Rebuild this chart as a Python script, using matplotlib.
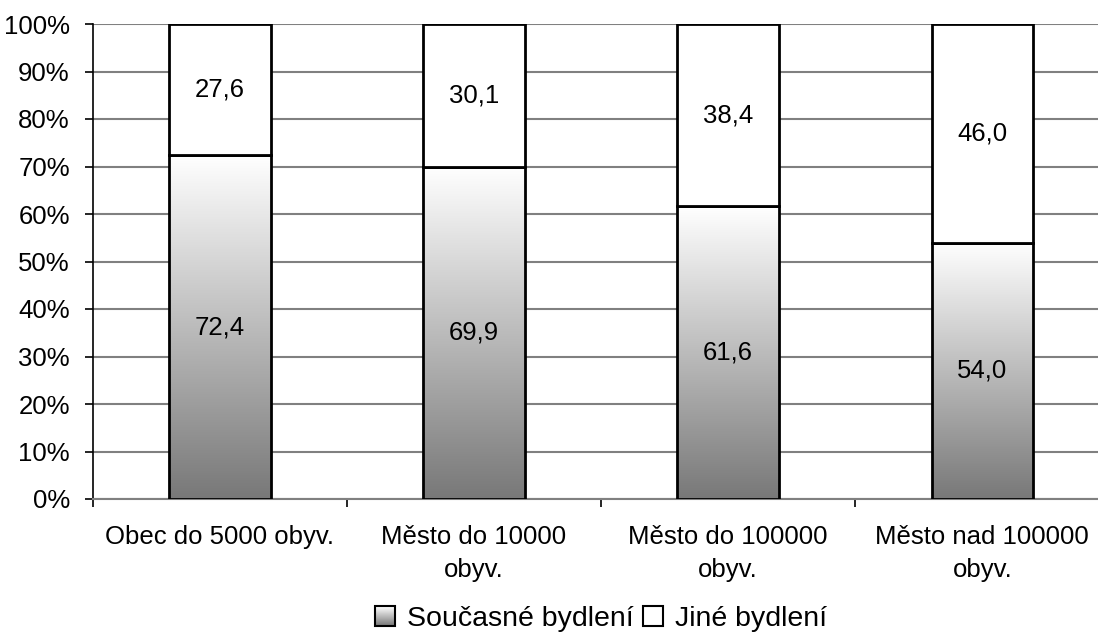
import numpy as np
import matplotlib.pyplot as plt
from matplotlib.patches import Rectangle
from matplotlib.legend_handler import HandlerBase

plt.rcParams['font.family'] = ['Liberation Sans', 'DejaVu Sans']

# Data
kategorie = ['Obec do 5000 obyv.', 'Město do 10000\nobyv.',
             'Město do 100000\nobyv.', 'Město nad 100000\nobyv.']
soucasne = [72.4, 69.9, 61.6, 54.0]
jine = [27.6, 30.1, 38.4, 46.0]

FS = 18.5

fig = plt.figure(figsize=(10.98, 6.32), dpi=100)
ax = fig.add_axes([92.7 / 1098, 1 - 499 / 632, (1098 - 92.7) / 1098, 475 / 632])

x = np.arange(len(kategorie))
sirka = 0.4

# gradient (svetla nahore, tmava dole)
grad = np.linspace(0, 1, 256).reshape(-1, 1)
cmap = plt.matplotlib.colors.LinearSegmentedColormap.from_list(
    'sede', ['#787878', '#ffffff'])

for i in range(len(x)):
    s = soucasne[i]
    j = jine[i]
    im = ax.imshow(grad, cmap=cmap, aspect='auto', origin='lower',
                   extent=[x[i] - sirka / 2, x[i] + sirka / 2, 0, s], zorder=3)
    r1 = Rectangle((x[i] - sirka / 2, 0), sirka, s, facecolor='none',
                   edgecolor='black', lw=2, zorder=4)
    ax.add_patch(r1)
    im.set_clip_path(r1)
    r2 = Rectangle((x[i] - sirka / 2, s), sirka, j, facecolor='white',
                   edgecolor='black', lw=2, zorder=4)
    ax.add_patch(r2)
    ax.text(x[i], s / 2, f'{s:.1f}'.replace('.', ','), ha='center', va='center',
            fontsize=FS, zorder=5)
    ax.text(x[i], s + j / 2, f'{j:.1f}'.replace('.', ','), ha='center', va='center',
            fontsize=FS, zorder=5)

ax.set_yticks(np.arange(0, 101, 10))
ax.set_yticklabels([f'{v}%' for v in range(0, 101, 10)], fontsize=FS)
ax.yaxis.grid(True, color='#808080', lw=1.5, zorder=0)
ax.set_axisbelow(True)

ax.set_xticks(x)
ax.set_xticklabels(kategorie, fontsize=FS, linespacing=1.46)
ax.tick_params(axis='x', length=0, pad=19)
ax.set_xticks(np.arange(-0.5, 4, 1), minor=True)
ax.tick_params(axis='x', which='minor', length=6, width=1.2, direction='out')
ax.tick_params(axis='y', length=5.5, width=1.2, direction='out', pad=11)

# limity az po nastaveni ticku (set_xticks je jinak roztahne)
ax.set_xlim(-0.5, 3.455)
ax.set_ylim(0, 100)

for sp in ['top', 'right']:
    ax.spines[sp].set_visible(False)
ax.spines['left'].set_linewidth(1.2)
ax.spines['bottom'].set_color('#808080')
ax.spines['bottom'].set_linewidth(1.5)


class GradHandler(HandlerBase):
    def create_artists(self, legend, orig, xd, yd, w, h, fontsize, trans):
        s = h * 1.0
        x0 = xd + (w - s) / 2
        y0 = yd + (h - s) / 2
        arts = []
        n = 20
        for k in range(n):
            c = cmap(1 - k / (n - 1))
            arts.append(Rectangle((x0, y0 + s * (n - 1 - k) / n), s, s / n,
                                  facecolor=c, edgecolor='none', transform=trans))
        arts.append(Rectangle((x0, y0), s, s, facecolor='none', edgecolor='black',
                              lw=1.5, transform=trans))
        return arts


class BoxHandler(HandlerBase):
    def create_artists(self, legend, orig, xd, yd, w, h, fontsize, trans):
        s = h * 1.0
        x0 = xd + (w - s) / 2
        y0 = yd + (h - s) / 2
        return [Rectangle((x0, y0), s, s, facecolor='white', edgecolor='black',
                          lw=1.5, transform=trans)]


h1 = Rectangle((0, 0), 1, 1)
h2 = Rectangle((0, 0), 1, 1, facecolor='white')
fig.legend([h1, h2], ['Současné bydlení', 'Jiné bydlení'],
           handler_map={h1: GradHandler(), h2: BoxHandler()},
           loc='center', bbox_to_anchor=(601 / 1098, 1 - 619 / 632), ncol=2,
           frameon=False, fontsize=20.5, handlelength=0.7, handletextpad=0.4,
           columnspacing=0.35)

fig.savefig('out.png', dpi=100)
